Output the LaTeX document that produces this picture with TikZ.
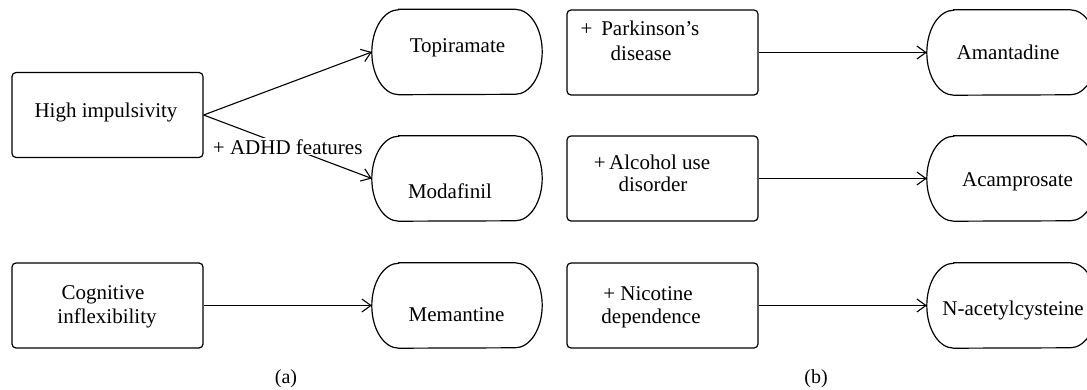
\documentclass[tikz,border=0pt]{standalone}
\usepackage{fontspec}
\setmainfont{Liberation Serif}
\usetikzlibrary{arrows.meta}
\newcommand\drugshape[1]{%
  \draw[line width=1.2pt] ([xshift=27pt]#1.north west) -- ([xshift=-27pt]#1.north east)
    arc[start angle=90,end angle=-90,x radius=27pt,y radius=42.5pt]
    -- ([xshift=27pt]#1.south west)
    arc[start angle=270,end angle=90,x radius=27pt,y radius=42.5pt] -- cycle;}
\begin{document}
\begin{tikzpicture}[x=1pt,y=-1pt,
  condbox/.style={draw, line width=1.2pt, rounded corners=4pt, minimum width=191pt, minimum height=85pt, inner sep=0pt},
  drugbox/.style={minimum width=170pt, minimum height=85pt, inner sep=0pt},
  txt/.style={anchor=base, font=\fontsize{21}{24}\selectfont, inner sep=0pt},
  arr/.style={line width=1.1pt, -{Straight Barb[length=9pt,width=13pt,line width=1.1pt]}}]
\clip (0,0) rectangle (1087,390);
% condition boxes
\node[condbox] (hi) at (107.5,115) {};
\node[condbox] (cog) at (107.5,305.5) {};
\node[condbox] (pk) at (662.5,52.5) {};
\node[condbox] (al) at (662.5,178.5) {};
\node[condbox] (nic) at (662.5,305.5) {};
% drug shapes
\node[drugbox] (top) at (457,52) {};
\node[drugbox] (mod) at (457,178.5) {};
\node[drugbox] (mem) at (457,305.5) {};
\node[drugbox] (ama) at (1012,52.5) {};
\node[drugbox] (aca) at (1012,178.5) {};
\node[drugbox] (nac) at (1012,305.5) {};
\drugshape{top}\drugshape{mod}\drugshape{mem}
\drugshape{ama}\drugshape{aca}\drugshape{nac}
% texts
\node[txt] (thi) at (106,118) {High impulsivity};
\node[txt] (tcog1) at (103,299) {Cognitive};
\node[txt] (tcog2) at (107,323) {inflexibility};
\node[txt] (tpk1) at (640,36) {+ \,Parkinson’s};
\node[txt] (tpk2) at (641,61) {disease};
\node[txt] (tal1) at (652,170) {+\,Alcohol use};
\node[txt] (tal2) at (653,192) {disorder};
\node[txt] (tnic1) at (648,300) {+ Nicotine};
\node[txt] (tnic2) at (651,323) {dependence};
\node[txt] (ttop) at (457.5,53) {Topiramate};
\node[txt] (tmod) at (450,199) {Modafinil};
\node[txt] (tmem) at (456.5,321) {Memantine};
\node[txt] (tama) at (1008,60) {Amantadine};
\node[txt] (taca) at (1017.5,187) {Acamprosate};
\node[txt] (tnac) at (1013,315) {N-acetylcysteine};
% connectors
\draw[arr] (hi.east) -- (top.west);
\draw[arr] (hi.east) -- node[midway, fill=white, inner sep=1pt, font=\fontsize{21}{24}\selectfont] (adhd) {+ ADHD features} (mod.west);
\draw[arr] (cog.east) -- (mem.west);
\draw[arr] (pk.east) -- (ama.west);
\draw[arr] (al.east) -- (aca.west);
\draw[arr] (nic.east) -- (nac.west);
% captions
\node[font=\fontsize{20}{24}\selectfont, inner sep=0pt] (capa) at (286,379) {(a)};
\node[font=\fontsize{20}{24}\selectfont, inner sep=0pt] (capb) at (816,379) {(b)};
\end{tikzpicture}
\end{document}
